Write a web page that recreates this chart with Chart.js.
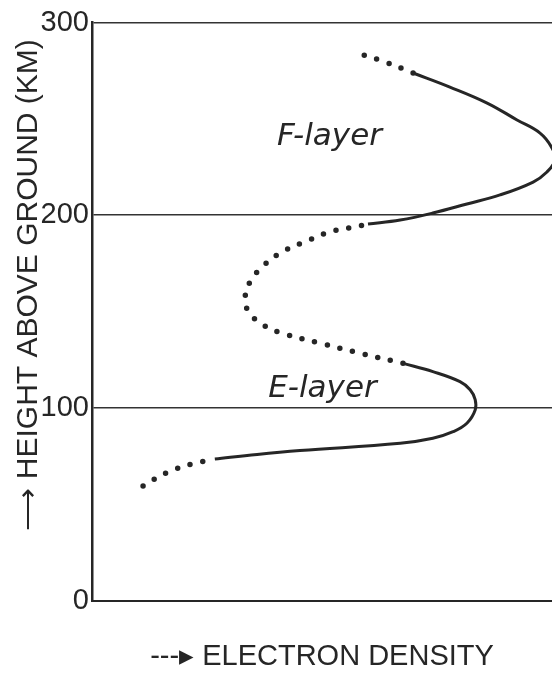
<!DOCTYPE html>
<html>
<head>
<meta charset="utf-8">
<script src="https://cdn.jsdelivr.net/npm/chart.js@4/dist/chart.umd.min.js"></script>
<style>
  body { margin: 0; background: #fff; }
  #chart-holder { width: 552px; height: 673px; position: relative; }
</style>
</head>
<body>
<div id="chart-holder"><canvas id="chart"></canvas></div>
<script>
// height ticks (km)
heightTicks = [0, 100, 200, 300];

// dotted tail below the E-layer
lowTailDensity = [11.1, 16.1, 21.7, 26.7];
lowTailHeight  = [59.4, 66.2, 70.8, 73.4];

// E-layer (solid)
eLayerDensity = [26.7, 35.9, 45.2, 67.0, 74.1, 78.5, 81.5, 83.3, 83.3, 82.2, 80.0, 74.1, 67.6];
eLayerHeight  = [73.4, 75.8, 77.8, 81.6, 84.2, 87.6, 92.0, 98.9, 104.3, 109.4, 113.6, 118.8, 123.1];

// dotted valley between the layers
valleyDensity = [67.6, 58.9, 50.4, 41.95, 37.2, 34.1, 33.3, 34.1, 37.2, 41.7, 46.7, 51.7, 57.2, 60.0];
valleyHeight  = [123.1, 128.0, 133.1, 138.3, 143.0, 149.7, 156.4, 164.3, 173.6, 181.4, 186.6, 191.3, 193.9, 195.4];

// F-layer (solid)
fLayerDensity = [60.0, 67.0, 74.1, 81.5, 88.7, 95.9, 98.9, 100.65, 100.0, 97.4, 92.4, 85.9, 77.8, 69.8];
fLayerHeight  = [195.4, 197.5, 201.1, 205.8, 210.5, 217.2, 222.4, 228.6, 234.9, 242.6, 249.4, 258.2, 266.5, 273.8];

// dotted tail above the F-layer
highTailDensity = [69.8, 63.7, 57.6];
highTailHeight  = [273.8, 279.5, 284.2];

// layer names and where they sit
layerNames   = ['F-layer', 'E-layer'];
layerNameX   = [40.2, 38.3];
layerNameY   = [236.4, 105.6];

ink = '#262626';

function pts(xs, ys) {
  return xs.map(function(x, i) { return {x: x, y: ys[i]}; });
}

function solid(xs, ys) {
  return {
    data: pts(xs, ys),
    borderColor: ink,
    borderWidth: 3,
    pointRadius: 0,
    tension: 0.4,
    fill: false
  };
}

function dotted(xs, ys) {
  return {
    data: pts(xs, ys),
    borderColor: ink,
    borderWidth: 5.5,
    borderDash: [0, 13],
    borderCapStyle: 'round',
    pointRadius: 0,
    tension: 0.4,
    fill: false
  };
}

layerLabels = {
  id: 'layerLabels',
  afterDatasetsDraw: function(chart) {
    var c = chart.ctx;
    var xs = chart.scales.x, ys = chart.scales.y;
    c.save();
    c.fillStyle = ink;
    c.font = 'italic 31px "DejaVu Sans"';
    c.textBaseline = 'alphabetic';
    c.textAlign = 'left';
    layerNames.forEach(function(name, i) {
      c.fillText(name, xs.getPixelForValue(layerNameX[i]), ys.getPixelForValue(layerNameY[i]));
    });
    c.restore();
  }
};

ctx = document.getElementById('chart').getContext('2d');

chart = new Chart(ctx, {
  type: 'scatter',
  data: {
    datasets: [
      dotted(lowTailDensity, lowTailHeight),
      solid(eLayerDensity, eLayerHeight),
      dotted(valleyDensity, valleyHeight),
      solid(fLayerDensity, fLayerHeight),
      dotted(highTailDensity, highTailHeight)
    ]
  },
  options: {
    responsive: true,
    maintainAspectRatio: false,
    animation: false,
    showLine: true,
    layout: { padding: { top: 22.5, right: 0, left: 0, bottom: 0 } },
    plugins: {
      legend: { display: false },
      tooltip: { enabled: false }
    },
    scales: {
      x: {
        type: 'linear',
        min: 0,
        max: 100,
        afterFit: function(scale) { scale.height = 72.5; },
        ticks: { display: false },
        grid: { drawOnChartArea: false, drawTicks: false },
        border: { color: ink, width: 2 },
        title: {
          display: true,
          text: '---\u25B8 ELECTRON DENSITY',
          color: ink,
          font: { family: '"Liberation Sans"', size: 29, lineHeight: 1 },
          padding: { top: 0, bottom: 2 }
        }
      },
      y: {
        type: 'linear',
        min: heightTicks[0],
        max: heightTicks[heightTicks.length - 1],
        afterFit: function(scale) { scale.width = 92; },
        afterBuildTicks: function(scale) {
          scale.ticks = heightTicks.map(function(v) { return {value: v}; });
        },
        ticks: {
          color: ink,
          padding: 3,
          font: { family: '"Liberation Sans"', size: 29 }
        },
        grid: { color: '#333', lineWidth: 1.5, drawTicks: false },
        border: { color: ink, width: 2.5 },
        title: {
          display: true,
          align: 'end',
          text: '\u27F6 HEIGHT ABOVE GROUND (KM)  ',
          color: ink,
          font: { family: '"Liberation Sans"', size: 30, lineHeight: 1 },
          padding: { top: 14, bottom: 0 }
        }
      }
    }
  },
  plugins: [layerLabels]
});
</script>
</body>
</html>
